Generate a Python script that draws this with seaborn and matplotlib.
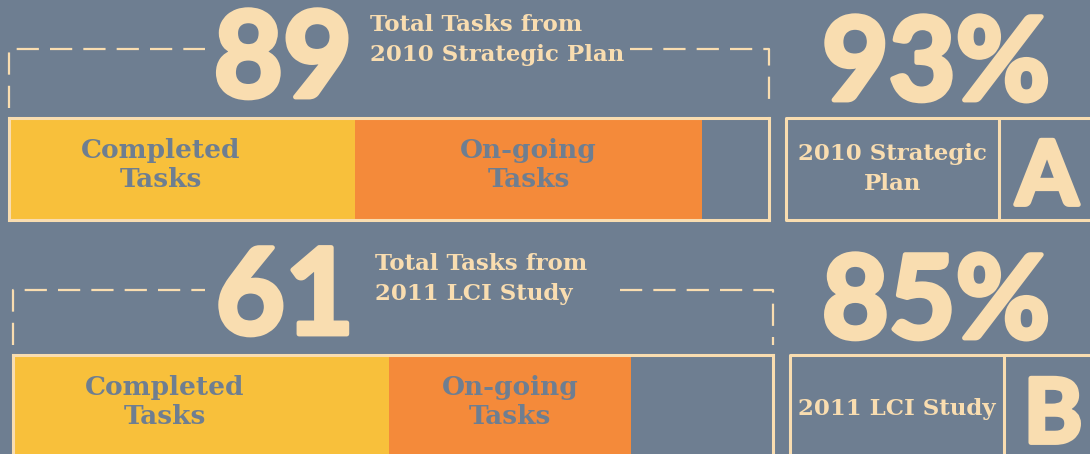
import numpy as np
import pandas as pd
import matplotlib
matplotlib.use("Agg")
import matplotlib.pyplot as plt
import matplotlib.patheffects as pe
import seaborn as sns

plans = ["2010 Strategic Plan", "2011 LCI Study"]
plan_titles = ["Total Tasks from\n2010 Strategic Plan", "Total Tasks from\n2011 LCI Study"]
box_labels = ["2010 Strategic\nPlan", "2011 LCI Study"]
letters = ["A", "B"]
total_tasks = [89, 61]
pct_addressed = [93, 85]
# share of the bar (percent of bar length)
completed_share = [45.5, 49.5]
ongoing_share = [45.7, 31.8]

BG = "#6E7E91"
CREAM = "#F9DDB0"
YELLOW = "#F8C03B"
ORANGE = "#F48A3A"

sns.set_style("white")
plt.rcParams['font.family'] = ['DejaVu Serif']

W, H = 1090, 454
fig = plt.figure(figsize=(W / 100, H / 100), dpi=100, facecolor=BG)
ax = fig.add_axes([0, 0, 1, 1])
ax.set_xlim(0, W)
ax.set_ylim(H, 0)
ax.axis('off')
ax.set_facecolor(BG)

slab = dict(family='DejaVu Serif', fontweight='bold')
# Lato bold, fattened with a stroke to mimic the heavy display face
heavy = dict(family='Lato', fontweight='bold',
             path_effects=[pe.withStroke(linewidth=3.5, foreground=CREAM)])

# layout per block (pixel positions)
bar_x0 = [9, 13]
bar_top = [118, 355]
bar_h = [102, 105]
bar_w = 760
dash_y = [49, 290]
dash_bottom = [108, 345]
dash_left_end = [205, 205]
dash_right_start = [630, 620]
num_x = [283, 285]
num_base = [97, 334]
title_x = [370, 375]
title_y = [40, 279]
box_x0 = [786, 790]
box_div = [999, 1004]
pct_base = [100, 338]
letter_x = [1047, 1053]
letter_mid = [171, 409]
label_y = [-0.04, -0.05]

for i, plan in enumerate(plans):
    x0, top, h = bar_x0[i], bar_top[i], bar_h[i]
    bax = fig.add_axes([x0 / W, 1 - (top + h) / H, bar_w / W, h / H])
    comp = completed_share[i]
    ong = ongoing_share[i]
    segs = pd.DataFrame({
        'plan': [plan] * 3,
        'cum': [100, comp + ong, comp],
        'color': [BG, ORANGE, YELLOW],
    })
    for _, row in segs.iterrows():
        sns.barplot(x=[row['cum']], y=[row['plan']], orient='h', color=row['color'],
                    saturation=1, width=1, linewidth=0, ax=bax)
    bax.set_xlim(0, 100)
    bax.set_ylim(0.5, -0.5)
    bax.set_xticks([])
    bax.set_yticks([])
    bax.set_xlabel('')
    bax.set_ylabel('')
    bax.set_facecolor(BG)
    for sp in bax.spines.values():
        sp.set_visible(True)
        sp.set_color(CREAM)
        sp.set_linewidth(2.2)
    bax.text(20, label_y[i], "Completed\nTasks", ha='center', va='center', color=BG,
             fontsize=19, linespacing=1.22, **slab)
    bax.text(comp + ong / 2, label_y[i], "On-going\nTasks", ha='center', va='center',
             color=BG, fontsize=19, linespacing=1.22, **slab)

    # dashed bracket
    dash = dict(color=CREAM, lw=1.6, linestyle=(0, (10, 5)))
    ax.plot([x0, x0, dash_left_end[i]], [dash_bottom[i], dash_y[i], dash_y[i]], **dash)
    ax.plot([dash_right_start[i], x0 + bar_w, x0 + bar_w],
            [dash_y[i], dash_y[i], dash_bottom[i]], **dash)

    # big total and title
    ax.text(num_x[i], num_base[i], str(total_tasks[i]), ha='center', va='baseline',
            color=CREAM, fontsize=86, **heavy)
    ax.text(title_x[i], title_y[i], plan_titles[i], ha='left', va='center',
            color=CREAM, fontsize=16.5, linespacing=1.45, **slab)

    # right side: percentage and label box
    ax.text(936, pct_base[i], f"{pct_addressed[i]}%", ha='center', va='baseline',
            color=CREAM, fontsize=83, **heavy)
    bx, dv = box_x0[i], box_div[i]
    ax.plot([W + 10, bx, bx, W + 10], [top, top, top + h, top + h], color=CREAM, lw=2.2)
    ax.plot([dv, dv], [top, top + h], color=CREAM, lw=2.2)
    ax.text((bx + dv) / 2, top + h / 2 + (0 if i == 0 else 2), box_labels[i],
            ha='center', va='center', color=CREAM, fontsize=16.5, linespacing=1.45, **slab)
    ax.text(letter_x[i], letter_mid[i], letters[i], ha='center', va='center_baseline',
            color=CREAM, fontsize=64, **heavy)

fig.savefig('out.png', dpi=100, facecolor=BG)
